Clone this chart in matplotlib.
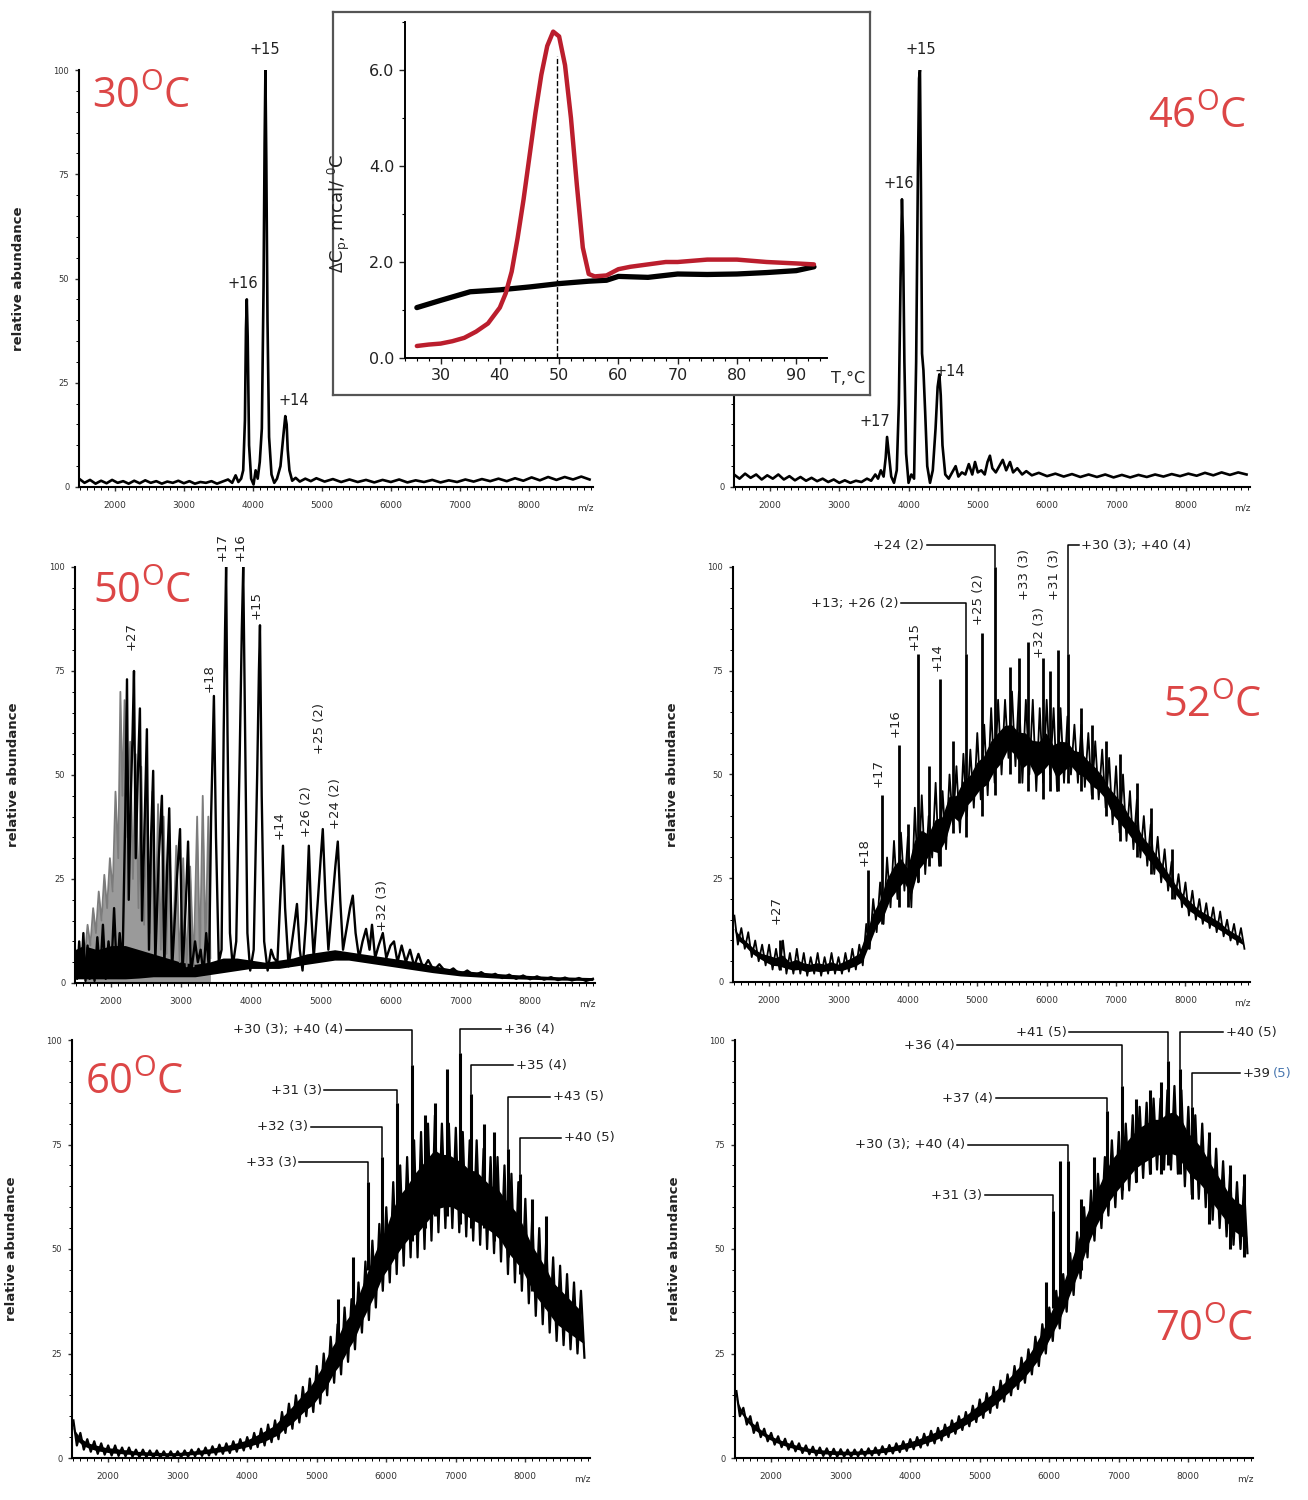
import numpy as np
import matplotlib
matplotlib.use('Agg')
import matplotlib.pyplot as plt
from matplotlib.ticker import MultipleLocator, FormatStrFormatter

plt.rcParams['font.family'] = ['DejaVu Sans']
plt.rcParams['mathtext.fontset'] = 'custom'
plt.rcParams['mathtext.rm'] = 'Open Sans'
plt.rcParams['mathtext.it'] = 'Open Sans:italic'
plt.rcParams['mathtext.bf'] = 'Open Sans:bold'

# ---------------- data ----------------
# 30 C spectrum (m/z, relative abundance)
x30 = [1480, 1560, 1640, 1720, 1800, 1880, 1960, 2040, 2120, 2200,
       2280, 2360, 2440, 2520, 2600, 2680, 2760, 2840, 2920, 3000,
       3080, 3160, 3240, 3320, 3400, 3480, 3560, 3640, 3700, 3750,
       3790, 3830, 3860, 3885, 3900, 3912, 3925, 3945, 3975, 4010,
       4040, 4070, 4100, 4130, 4155, 4170, 4182, 4195, 4212, 4235,
       4270, 4310, 4350, 4400, 4440, 4470, 4490, 4505, 4530, 4570,
       4620, 4680, 4760, 4840, 4920, 5040, 5160, 5280, 5400, 5520,
       5640, 5760, 5880, 6000, 6120, 6240, 6360, 6480, 6600, 6720,
       6840, 6960, 7080, 7200, 7320, 7440, 7560, 7680, 7800, 7920,
       8040, 8160, 8280, 8400, 8520, 8640, 8760, 8880]
y30 = [2.0, 1.0, 1.7, 0.8, 1.5, 0.9, 1.7, 1.0, 1.4, 0.8,
       1.5, 0.9, 1.6, 1.0, 1.4, 0.8, 1.3, 1.0, 1.5, 0.9,
       1.4, 0.8, 1.2, 1.0, 1.4, 0.8, 1.3, 1.8, 1.0, 2.8,
       1.2, 2.0, 4.0, 16, 38, 45, 36, 10, 2.0, 0.6,
       4.0, 2.0, 6.0, 14, 48, 82, 100, 78, 40, 12,
       3.0, 1.0, 2.0, 5.0, 12, 17, 15, 9.0, 4.0, 1.5,
       2.2, 1.3, 2.0, 1.4, 2.1, 1.3, 1.9, 1.2, 1.8, 1.2,
       1.7, 1.1, 1.7, 1.2, 1.8, 1.1, 1.6, 1.2, 1.7, 1.1,
       1.6, 1.2, 1.8, 1.3, 1.9, 1.4, 2.0, 1.4, 2.1, 1.5,
       2.3, 1.6, 2.4, 1.7, 2.4, 1.8, 2.5, 1.8]

# 46 C spectrum
x46 = [1480, 1560, 1640, 1720, 1800, 1880, 1960, 2040, 2120, 2200,
       2280, 2360, 2440, 2520, 2600, 2680, 2760, 2840, 2920, 3000,
       3080, 3160, 3240, 3320, 3400, 3460, 3520, 3560, 3600, 3640,
       3670, 3690, 3715, 3750, 3790, 3830, 3860, 3885, 3905, 3920,
       3940, 3965, 4000, 4040, 4080, 4110, 4135, 4152, 4165, 4180,
       4195, 4215, 4240, 4270, 4310, 4350, 4390, 4420, 4445, 4465,
       4490, 4530, 4580, 4630, 4680, 4720, 4770, 4820, 4870, 4920,
       4960, 5000, 5050, 5100, 5140, 5175, 5210, 5260, 5310, 5360,
       5410, 5465, 5510, 5570, 5640, 5700, 5780, 5880, 6000, 6120,
       6240, 6360, 6480, 6600, 6720, 6840, 6960, 7080, 7200, 7320,
       7440, 7560, 7680, 7800, 7920, 8040, 8160, 8280, 8400, 8520,
       8640, 8760, 8880]
y46 = [3.0, 2.0, 3.2, 2.2, 3.0, 1.8, 2.8, 2.0, 3.0, 1.8,
       2.6, 1.6, 2.4, 1.5, 2.2, 1.4, 2.0, 1.2, 1.8, 1.0,
       1.6, 1.0, 1.5, 1.2, 2.0, 1.5, 3.0, 2.0, 4.0, 2.5,
       7.0, 12, 8.0, 2.5, 1.0, 4.0, 20, 50, 69, 60,
       30, 8.0, 1.0, 3.0, 2.0, 30, 75, 98, 100, 70,
       32, 28, 18, 5.0, 1.0, 4.0, 14, 24, 27, 22,
       10, 3.0, 2.0, 3.5, 5.0, 2.5, 3.5, 3.0, 5.5, 3.0,
       6.0, 3.5, 4.0, 3.0, 6.0, 7.5, 4.5, 3.5, 5.0, 6.5,
       4.0, 6.0, 3.5, 4.5, 3.0, 3.8, 2.8, 3.4, 2.6, 3.2,
       2.5, 3.1, 2.4, 3.0, 2.4, 3.0, 2.3, 2.9, 2.3, 2.9,
       2.4, 3.0, 2.5, 3.1, 2.6, 3.2, 2.7, 3.4, 2.8, 3.5,
       2.9, 3.5, 3.0]

# 50 C spectrum (black), its noisy baseline band and the overlapping grey series
x50 = [1480, 1510, 1540, 1570, 1600, 1630, 1660, 1690, 1720, 1760,
       1800, 1840, 1880, 1920, 1960, 2000, 2040, 2080, 2120, 2160,
       2200, 2225, 2250, 2280, 2305, 2325, 2350, 2380, 2410, 2440,
       2480, 2510, 2540, 2570, 2600, 2630, 2680, 2725, 2760, 2800,
       2830, 2870, 2940, 2985, 3020, 3070, 3100, 3140, 3200, 3240,
       3280, 3320, 3360, 3400, 3430, 3450, 3470, 3500, 3540, 3580,
       3610, 3630, 3645, 3665, 3700, 3740, 3790, 3840, 3870, 3890,
       3910, 3950, 3990, 4040, 4090, 4115, 4130, 4155, 4190, 4240,
       4290, 4330, 4380, 4420, 4460, 4490, 4540, 4590, 4630, 4660,
       4700, 4740, 4790, 4830, 4860, 4900, 4960, 5000, 5030, 5070,
       5110, 5160, 5210, 5245, 5280, 5320, 5380, 5420, 5460, 5500,
       5550, 5600, 5650, 5700, 5735, 5780, 5830, 5890, 5940, 6000,
       6050, 6100, 6160, 6220, 6280, 6340, 6400, 6470, 6540, 6620,
       6700, 6800, 6900, 7000, 7100, 7200, 7300, 7400, 7500, 7600,
       7700, 7800, 7900, 8000, 8100, 8200, 8300, 8400, 8500, 8600,
       8700, 8800, 8900]
y50 = [8, 1, 10, 2, 12, 0.5, 9, 1, 7, 0.5,
       11, 2, 14, 1, 10, 3, 18, 2, 12, 4,
       40, 73, 20, 45, 60, 75, 30, 50, 66, 15,
       40, 61, 8, 35, 51, 5, 30, 45, 4, 28,
       42, 3, 25, 37, 2, 20, 34, 2, 10, 5,
       8, 2, 12, 3, 40, 55, 69, 35, 5, 8,
       60, 85, 100, 60, 12, 4, 10, 55, 85, 100,
       70, 12, 3, 8, 50, 75, 86, 45, 10, 3,
       8, 6, 5, 20, 33, 18, 4, 10, 15, 19,
       8, 3, 15, 33, 18, 6, 20, 30, 37, 20,
       8, 18, 28, 34, 20, 8, 14, 18, 21, 12,
       6, 10, 13, 8, 14, 6, 9, 12, 6, 9,
       10, 5, 9, 5, 8, 4, 7, 3.5, 5.5, 3,
       4.5, 2.5, 3.5, 2, 3, 1.8, 2.6, 1.5, 2.2, 1.2,
       2.0, 1.0, 1.8, 0.9, 1.6, 0.8, 1.4, 0.7, 1.3, 0.6,
       1.2, 0.5, 1.0]
base50_x = [1480, 1600, 1800, 2000, 2200, 2400, 2600, 2800, 3000, 3200,
            3400, 3600, 3800, 4000, 4200, 4400, 4600, 4800, 5000, 5200,
            5400, 5600, 5800, 6000, 6200, 6400, 6600, 6800, 7000, 7300,
            7600, 8000, 8400, 8900]
base50_lo = [1, 1, 1, 1, 1, 1.2, 1.5, 1.5, 1.5, 1.5,
             2, 2.5, 3, 3.5, 3.5, 3.5, 4, 4.5, 5, 5.5,
             5.5, 5, 4.5, 4, 3.5, 3, 2.5, 2.1, 1.7, 1.4,
             1.1, 0.9, 0.7, 0.6]
base50_hi = [8, 9, 8, 9, 9, 8, 7, 6, 5, 4.5,
             5, 6, 6, 5.5, 5, 5.5, 6, 7, 7.5, 8,
             7.5, 7, 6.5, 6, 5.5, 5, 4.2, 3.6, 3.0, 2.6,
             2.2, 1.8, 1.5, 1.3]
xg50 = [1620, 1660, 1700, 1740, 1780, 1820, 1860, 1900, 1940, 1980,
        2020, 2060, 2100, 2130, 2160, 2190, 2230, 2270, 2310, 2350,
        2390, 2430, 2470, 2510, 2550, 2590, 2630, 2670, 2710, 2750,
        2790, 2830, 2880, 2930, 2980, 3030, 3080, 3130, 3180, 3230,
        3270, 3310, 3350, 3390, 3420]
yg50 = [6, 14, 9, 18, 12, 22, 15, 26, 18, 30,
        22, 46, 30, 70, 45, 68, 35, 58, 25, 55,
        18, 52, 14, 48, 12, 46, 10, 43, 8, 40,
        7, 36, 6, 33, 5, 30, 4, 28, 4, 40,
        6, 45, 8, 40, 6]

# dense spectra: band maxima sampled at 1500..8800, minima half a step later
hi52 = [16, 13, 12, 10, 9, 9, 8, 10, 7, 8,
        7, 6, 7, 6, 7, 6, 7, 8, 9, 14,
        20, 24, 30, 34, 36, 35, 42, 45, 40, 48,
        46, 50, 52, 55, 56, 60, 62, 66, 68, 68,
        70, 70, 68, 68, 66, 68, 66, 66, 64, 62,
        62, 60, 58, 56, 54, 52, 50, 46, 44, 40,
        38, 35, 32, 29, 26, 24, 22, 20, 19, 18,
        17, 15, 14, 13]
lo52 = [9, 8, 6, 5, 4, 3, 3, 2, 2, 2,
        1.5, 2, 1.5, 2, 2, 2, 2.5, 3, 4, 8,
        12, 14, 18, 20, 22, 18, 24, 26, 30, 28,
        32, 38, 36, 40, 42, 44, 45, 48, 50, 54,
        52, 48, 50, 46, 48, 50, 46, 48, 50, 48,
        47, 45, 44, 42, 38, 36, 34, 32, 30, 28,
        26, 24, 22, 20, 18, 16, 15, 14, 13, 12,
        11, 10, 9, 8]
spk52_x = [2157, 3425, 3627, 3872, 4000, 4146, 4300, 4463, 4650, 4837,
           5068, 5255, 5470, 5600, 5730, 5947, 6050, 6163, 6307, 6500,
           6650, 6850, 7050, 7300, 7500, 7800]
spk52_lo = [3, 8, 14, 18, 18, 24, 28, 28, 36, 35,
            40, 45, 50, 48, 46, 44, 46, 46, 48, 46,
            44, 40, 34, 30, 26, 20]
spk52_hi = [10, 27, 45, 57, 38, 79, 52, 73, 58, 79,
            84, 100, 76, 78, 82, 78, 75, 80, 79, 66,
            62, 58, 55, 48, 42, 32]

hi60 = [9, 6, 4.5, 4, 3.5, 3, 3, 2.5, 2.5, 2,
        2, 1.8, 1.8, 1.6, 1.6, 1.6, 1.8, 2, 2.2, 2.5,
        2.8, 3.2, 3.5, 4, 4.5, 5, 6, 7, 8, 9,
        11, 13, 15, 17, 19, 22, 25, 29, 32, 36,
        38, 42, 47, 52, 56, 60, 66, 70, 72, 76,
        78, 80, 82, 80, 80, 79, 78, 76, 76, 74,
        72, 72, 70, 68, 66, 62, 58, 55, 52, 48,
        46, 44, 42, 40]
lo60 = [3, 2, 1.5, 1, 0.8, 0.6, 0.5, 0.4, 0.3, 0.2,
        0.2, 0.1, 0.1, 0.1, 0.1, 0.2, 0.3, 0.4, 0.5, 0.6,
        0.8, 1, 1.2, 1.5, 1.8, 2.2, 2.6, 3, 3.8, 4.5,
        6, 7, 8.5, 10, 11, 13, 15, 18, 20, 23,
        26, 30, 33, 36, 40, 42, 44, 46, 48, 48,
        50, 52, 54, 55, 55, 54, 53, 52, 51, 50,
        49, 47, 44, 42, 40, 37, 34, 32, 30, 28,
        27, 26, 25, 24]
spk60_x = [5300, 5520, 5740, 5940, 6155, 6370, 6550, 6700, 6875, 7060,
           7220, 7400, 7550, 7750, 7925, 8100, 8300]
spk60_lo = [26, 35, 45, 48, 50, 52, 55, 58, 58, 56,
            55, 55, 52, 48, 44, 40, 36]
spk60_hi = [38, 48, 66, 72, 85, 94, 82, 85, 93, 97,
            87, 80, 78, 74, 68, 62, 58]

hi70 = [16, 12, 10, 8.5, 7, 6, 5.2, 4.6, 4, 3.5,
        3, 2.7, 2.5, 2.3, 2.2, 2.1, 2.0, 2.0, 2.1, 2.3,
        2.5, 2.8, 3.1, 3.5, 4, 4.5, 5, 5.8, 6.5, 7.2,
        8, 9, 10, 11, 12.5, 14, 15.5, 17, 18.5, 20,
        22, 24, 26, 29, 32, 36, 40, 44, 49, 54,
        60, 64, 68, 72, 76, 78, 80, 82, 84, 85,
        86, 86, 88, 89, 88, 84, 82, 80, 77, 74,
        71, 68, 66, 65]
lo70 = [10, 8, 6, 5, 4, 3.2, 2.6, 2, 1.6, 1.2,
        0.9, 0.6, 0.5, 0.4, 0.3, 0.3, 0.3, 0.4, 0.5, 0.6,
        0.7, 0.9, 1.1, 1.4, 1.7, 2.1, 2.5, 3, 3.5, 4.2,
        5, 5.8, 6.7, 7.6, 8.6, 9.6, 10.8, 12, 13.5, 15,
        16.5, 18, 20, 22, 25, 28, 31, 35, 39, 43,
        48, 52, 55, 58, 60, 62, 64, 66, 67, 68,
        69, 69, 69, 68, 65, 63, 62, 60, 57, 55,
        53, 51, 50, 49]
spk70_x = [5950, 6055, 6150, 6270, 6450, 6650, 6830, 7050, 7250, 7450,
           7600, 7710, 7880, 8055, 8300, 8600, 8800]
spk70_lo = [30, 36, 38, 44, 45, 55, 62, 64, 66, 68,
            68, 70, 68, 62, 56, 50, 48]
spk70_hi = [42, 59, 71, 71, 62, 72, 83, 89, 86, 88,
            90, 95, 93, 84, 78, 70, 68]

# DSC inset
T_red = [26, 28, 30, 32, 34, 36, 38, 40, 41, 42, 43, 44, 45, 46, 47, 48, 49, 50,
         51, 52, 53, 54, 55, 56, 58, 60, 62, 65, 68, 70, 75, 80, 85, 90, 93]
cp_red = [0.25, 0.28, 0.3, 0.35, 0.42, 0.55, 0.72, 1.05, 1.35, 1.8, 2.5, 3.3, 4.2,
          5.1, 5.9, 6.5, 6.8, 6.7, 6.1, 5.0, 3.6, 2.3, 1.75, 1.7, 1.72, 1.85, 1.9,
          1.95, 2.0, 2.0, 2.05, 2.05, 2.0, 1.97, 1.95]
T_blk = [26, 30, 35, 40, 45, 50, 55, 58, 60, 65, 70, 75, 80, 85, 90, 93]
cp_blk = [1.05, 1.2, 1.38, 1.42, 1.48, 1.55, 1.6, 1.62, 1.7, 1.68, 1.75, 1.74,
          1.75, 1.78, 1.82, 1.9]
T_max = 49.6

# peak labels
vlab50 = ['+27', '+18', '+17', '+16', '+15', '+14', '+26 (2)', '+25 (2)', '+24 (2)', '+32 (3)']
vlab50_x = [2280, 3400, 3590, 3840, 4080, 4410, 4790, 4990, 5210, 5880]
vlab50_y = [80, 70, 101.5, 101.5, 87.5, 34.5, 35, 55, 37, 12.5]

vlab52 = ['+27', '+18', '+17', '+16', '+15', '+14', '+25 (2)', '+33 (3)', '+32 (3)', '+31 (3)']
vlab52_x = [2100, 3370, 3575, 3820, 4095, 4415, 5015, 5680, 5895, 6115]
vlab52_y = [14, 28, 47, 59, 80, 75, 86, 92, 78, 92]

lead52 = ['+13; +26 (2)', '+24 (2)', '+30 (3); +40 (4)']
lead52_peak = [4837, 5255, 6307]
lead52_top = [79, 100, 79]
lead52_y = [91.3, 105.3, 105.3]
lead52_end = [3900, 4270, 6460]

lead60 = ['+33 (3)', '+32 (3)', '+31 (3)', '+30 (3); +40 (4)', '+36 (4)', '+35 (4)', '+43 (5)', '+40 (5)']
lead60_peak = [5740, 5940, 6155, 6370, 7060, 7220, 7750, 7925]
lead60_top = [66, 72, 85, 94, 97, 87, 74, 68]
lead60_y = [70.8, 79.2, 88.0, 102.4, 102.6, 94.0, 86.4, 76.6]
lead60_end = [4750, 4920, 5110, 5420, 7655, 7827, 8357, 8515]

lead70 = ['+31 (3)', '+30 (3); +40 (4)', '+37 (4)', '+36 (4)', '+41 (5)', '+40 (5)', '+39']
lead70_peak = [6055, 6270, 6830, 7050, 7710, 7880, 8055]
lead70_top = [59, 71, 83, 89, 95, 93, 84]
lead70_y = [62.9, 74.9, 86.1, 98.8, 101.9, 101.9, 92.1]
lead70_end = [5070, 4830, 5230, 4680, 6290, 8502, 8746]

grid_hi = np.arange(1500, 8801, 100)
grid_lo = grid_hi + 50

# ---------------- figure ----------------
W, H = 1308, 1500
fig = plt.figure(figsize=(W / 100, H / 100), dpi=100)
RED = '#dc4646'
LAB = 9.5


def px_axes(l, r, t, b, **kw):
    return fig.add_axes([l / W, 1 - b / H, (r - l) / W, (b - t) / H], **kw)


def style_ms(ax):
    ax.set_xlim(1480, 8930)
    ax.set_ylim(0, 100)
    for s in ('top', 'right'):
        ax.spines[s].set_visible(False)
    for s in ('left', 'bottom'):
        ax.spines[s].set_linewidth(1.5)
    ax.set_xticks(range(2000, 8001, 1000))
    ax.xaxis.set_minor_locator(MultipleLocator(100))
    ax.set_yticks([0, 25, 50, 75, 100])
    ax.yaxis.set_minor_locator(MultipleLocator(5))
    ax.tick_params(axis='x', labelsize=6.5, length=3, width=1, pad=7, colors='#333')
    ax.tick_params(axis='y', labelsize=6, length=3, width=1, pad=4, colors='#333')
    ax.tick_params(which='minor', length=2, width=0.7)
    ax.set_ylabel('relative abundance', fontsize=9.5, fontweight='bold', color='#222')
    ax.yaxis.set_label_coords(-0.105, 0.5)
    ax.text(0.985, -0.05, 'm/z', transform=ax.transAxes, fontsize=6.5,
            ha='center', va='center', color='#333')


def band(ax, hi, lo, lw, f0, f1):
    # dark core of the noisy envelope plus the ragged trace over it
    hi = np.asarray(hi, float)
    lo = np.asarray(lo, float)
    top = lo + f1 * (hi - lo)
    bot = lo + f0 * (hi - lo)
    ax.fill(np.r_[grid_hi, grid_lo[::-1]], np.r_[top, bot[::-1]], color='k', lw=0)
    xs = np.empty(2 * len(hi))
    ys = np.empty(2 * len(hi))
    xs[0::2], xs[1::2] = grid_hi, grid_lo
    ys[0::2], ys[1::2] = hi, lo
    ax.plot(xs, ys, color='k', lw=lw)


def vlabels(ax, texts, xs, ys):
    for s, x, y in zip(texts, xs, ys):
        ax.text(x, y, s, rotation=90, ha='center', va='bottom', fontsize=LAB,
                color='#222', clip_on=False)


def leaders(ax, texts, peaks, tops, ys, ends):
    for s, p, t, y, e in zip(texts, peaks, tops, ys, ends):
        ax.plot([e, p, p], [y, y, t], color='k', lw=1.1, clip_on=False)
        if e < p:
            ax.text(e - 40, y, s, ha='right', va='center', fontsize=LAB, color='#222', clip_on=False)
        else:
            ax.text(e + 40, y, s, ha='left', va='center', fontsize=LAB, color='#222', clip_on=False)


# 30 C
ax30 = px_axes(79, 593, 70, 487)
style_ms(ax30)
ax30.plot(x30, y30, color='k', lw=1.9)
ax30.text(4180, 103, '+15', ha='center', va='bottom', fontsize=10.5, color='#222')
ax30.text(3860, 47, '+16', ha='center', va='bottom', fontsize=10.5, color='#222')
ax30.text(4590, 19, '+14', ha='center', va='bottom', fontsize=10.5, color='#222')

# 46 C
ax46 = px_axes(734, 1250, 70, 487)
style_ms(ax46)
ax46.plot(x46, y46, color='k', lw=1.9)
ax46.text(4170, 103, '+15', ha='center', va='bottom', fontsize=10.5, color='#222')
ax46.text(3860, 71, '+16', ha='center', va='bottom', fontsize=10.5, color='#222')
ax46.text(4590, 26, '+14', ha='center', va='bottom', fontsize=10.5, color='#222')
ax46.text(3520, 14, '+17', ha='center', va='bottom', fontsize=10.5, color='#222')

# 50 C
ax50 = px_axes(75, 595, 567, 983)
style_ms(ax50)
ax50.fill_between(xg50, 0, yg50, color='#9a9a9a', lw=0)
ax50.plot(xg50, yg50, color='#7c7c7c', lw=1.3)
ax50.fill_between(base50_x, base50_lo, base50_hi, color='k', lw=0)
ax50.plot(x50, y50, color='k', lw=1.7)
vlabels(ax50, vlab50, vlab50_x, vlab50_y)

# 52 C
ax52 = px_axes(733, 1250, 567, 982)
style_ms(ax52)
band(ax52, hi52, lo52, 1.3, 0.15, 0.55)
ax52.vlines(spk52_x, spk52_lo, spk52_hi, color='k', lw=2.0)
vlabels(ax52, vlab52, vlab52_x, vlab52_y)
leaders(ax52, lead52, lead52_peak, lead52_top, lead52_y, lead52_end)

# 60 C
ax60 = px_axes(72, 590, 1040, 1458)
style_ms(ax60)
band(ax60, hi60, lo60, 1.6, 0.2, 0.7)
ax60.vlines(spk60_x, spk60_lo, spk60_hi, color='k', lw=2.2)
leaders(ax60, lead60, lead60_peak, lead60_top, lead60_y, lead60_end)

# 70 C
ax70 = px_axes(735, 1253, 1040, 1458)
style_ms(ax70)
band(ax70, hi70, lo70, 1.6, 0.2, 0.7)
ax70.vlines(spk70_x, spk70_lo, spk70_hi, color='k', lw=2.2)
leaders(ax70, lead70, lead70_peak, lead70_top, lead70_y, lead70_end)
ax70.text(lead70_end[-1] + 470, lead70_y[-1], '(5)', ha='left', va='center',
          fontsize=LAB, color='#4a78b0', clip_on=False)

# temperature labels
for t, x, y in [('30', 92, 97), ('46', 1148, 117), ('50', 93, 592),
                ('52', 1163, 706), ('60', 85, 1083), ('70', 1155, 1330)]:
    fig.text(x / W, 1 - y / H, t + r'$^{\mathrm{O}}$C', fontsize=30, color=RED,
             family='Open Sans', ha='left', va='center')

# DSC inset
box = px_axes(333, 870, 12, 395, zorder=5)
box.set_xticks([])
box.set_yticks([])
box.set_facecolor('white')
for s in box.spines.values():
    s.set_color('#555555')
    s.set_linewidth(1.6)

ins = px_axes(405, 827, 22, 358, zorder=6)
ins.set_facecolor('none')
ins.set_xlim(24, 95.2)
ins.set_ylim(0, 7.0)
for s in ('top', 'right'):
    ins.spines[s].set_visible(False)
for s in ('left', 'bottom'):
    ins.spines[s].set_linewidth(1.4)
ins.set_xticks(range(30, 91, 10))
ins.xaxis.set_minor_locator(MultipleLocator(2))
ins.set_yticks([0, 2, 4, 6])
ins.yaxis.set_minor_locator(MultipleLocator(1))
ins.yaxis.set_major_formatter(FormatStrFormatter('%.1f'))
ins.tick_params(labelsize=11.5, length=4, width=1, colors='#222')
ins.tick_params(which='minor', length=2.5, width=0.8)
ins.plot(T_blk, cp_blk, color='k', lw=3.8, solid_capstyle='round')
ins.plot(T_red, cp_red, color='#bb1e2d', lw=3.2, solid_capstyle='round')
ins.vlines(T_max, 0, 6.3, colors='k', linestyles='--', lw=1.0)
ins.set_ylabel(r'$\Delta$C$_{\mathrm{p}}$, mcal/ $^{\mathrm{0}}$C', fontsize=13, color='#222')
ins.yaxis.set_label_coords(-0.125, 0.43)
ins.text(1.05, -0.06, 'T,°C', transform=ins.transAxes, fontsize=11.5,
         ha='center', va='center', color='#222')

fig.savefig('out.png', dpi=100)
